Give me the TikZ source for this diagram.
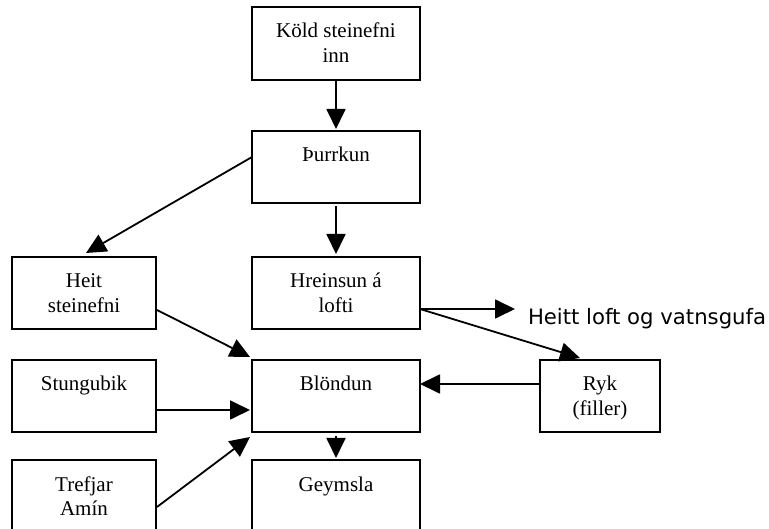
\documentclass[tikz,border=0pt]{standalone}
\usepackage{fontspec}
\setmainfont{Liberation Serif}
\newfontfamily\labfont{DejaVu Sans}
\usetikzlibrary{arrows.meta,calc}
\newcommand\bxt[3]{\parbox[c][#2pt][t]{#1pt}{\centering\rule{0pt}{31pt}#3}}
\tikzset{
  box/.style={draw, line width=2pt, inner sep=0pt, outer sep=0pt, anchor=north west,
    font=\fontsize{21}{24.5}\selectfont},
  arr/.style={line width=1.8pt, -{Triangle[length=20pt,width=19pt]}},
}
\begin{document}
\begin{tikzpicture}[x=1pt,y=-1pt]
\useasboundingbox (0,0) rectangle (769,529);
\clip (0,0) rectangle (769,529);
\node[box] (koeld) at (252,7) {\bxt{168}{73}{Köld steinefni\\inn}};
\node[box] (thurr) at (252,131) {\bxt{168}{72}{Þurrkun}};
\node[box] (hrein) at (252,257) {\bxt{168}{72}{Hreinsun á\\lofti}};
\node[box] (heit) at (12,257) {\bxt{144}{72}{Heit\\steinefni}};
\node[box] (stungu) at (12,360) {\bxt{144}{72}{Stungubik}};
\node[box] (blond) at (252,360) {\bxt{168}{72}{Blöndun}};
\node[box] (ryk) at (540,360) {\bxt{120}{72}{Ryk\\(filler)}};
\node[box] (trefjar) at (12,460) {\bxt{144}{76}{Trefjar\\Amín}};
\node[box] (geym) at (252,460) {\bxt{168}{76}{Geymsla}};
\node[anchor=base west, inner sep=0pt, outer sep=0pt, font=\labfont\fontsize{21.2}{25}\selectfont] (lab) at (528,325) {Heitt loft og vatnsgufa};
\draw[arr, shorten >=2pt] (koeld.south) -- (thurr.north);
\draw[arr] ([shift={(0,26)}]thurr.north west) -- ([shift={(2,-4)}]heit.north);
\draw[arr, shorten <=3pt, shorten >=3pt] (thurr.south) -- (hrein.north);
\draw[arr] ([shift={(1,-19)}]heit.south east) -- ([shift={(-2,-3)}]blond.north west);
\draw[arr, shorten >=2pt] ([shift={(0,14)}]stungu.east) -- ([shift={(0,14)}]blond.west);
\draw[arr] ([shift={(1,47)}]trefjar.north east) -- ([shift={(-2,5)}]blond.south west);
\draw[arr, shorten <=4pt, shorten >=2pt] (blond.south) -- (geym.north);
\draw[arr] ([shift={(0,24)}]ryk.north west) -- ([shift={(0,24)}]blond.north east);
\draw[arr] ([shift={(0,-20)}]hrein.south east) -- ([shift={(-13,-16)}]lab.base west);
\draw[arr] ([shift={(0,-20)}]hrein.south east) -- ([shift={(40,-2)}]ryk.north west);
\end{tikzpicture}
\end{document}
